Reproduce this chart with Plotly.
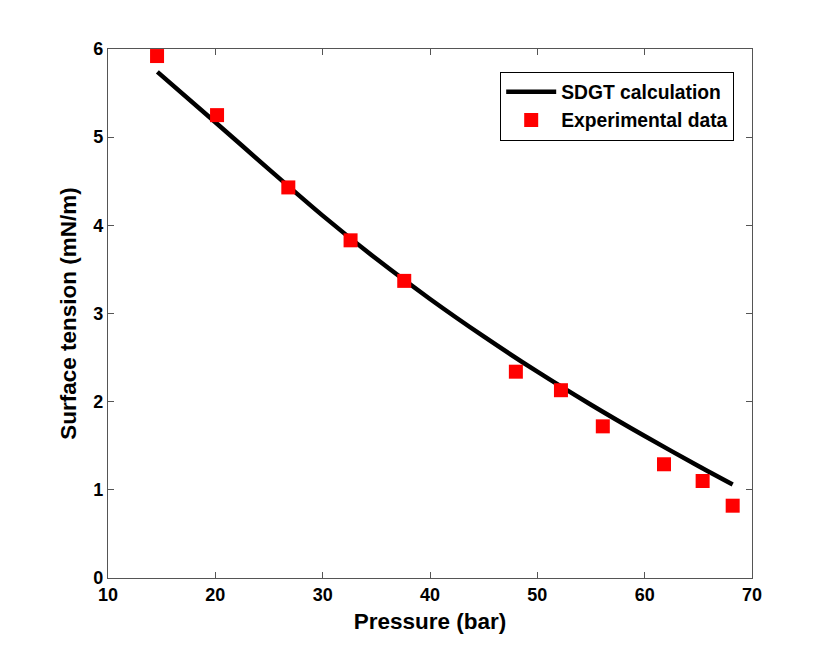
import plotly.graph_objects as go

# SDGT calculation (line)
calc_pressure = [14.6, 20, 25, 30, 35, 40, 45, 50, 55, 60, 65, 68.2]
calc_tension = [5.74, 5.17, 4.635, 4.11, 3.62, 3.165, 2.74, 2.34, 1.965, 1.61, 1.27, 1.06]

# Experimental data (markers)
exp_pressure = [14.57, 20.16, 26.8, 32.6, 37.6, 48.0, 52.2, 56.1, 61.8, 65.4, 68.2]
exp_tension = [5.92, 5.25, 4.43, 3.83, 3.37, 2.34, 2.13, 1.72, 1.29, 1.10, 0.82]

xticks = [10, 20, 30, 40, 50, 60, 70]
yticks = [0, 1, 2, 3, 4, 5, 6]

font = "Liberation Sans, Arial, Helvetica, sans-serif"

fig = go.Figure()
fig.add_trace(go.Scatter(
    x=calc_pressure, y=calc_tension, mode="lines",
    name="<b>SDGT calculation</b>",
    line=dict(color="black", width=4.5, shape="spline", smoothing=0.8),
))
fig.add_trace(go.Scatter(
    x=exp_pressure, y=exp_tension, mode="markers",
    name="<b>Experimental data</b>",
    marker=dict(symbol="square", size=14, color="#ff0000",
                line=dict(width=0)),
))

axis_common = dict(
    showgrid=False, zeroline=False, showline=True, linecolor="#555555",
    linewidth=1.2, mirror="ticks", ticks="inside", ticklen=6,
    tickcolor="#555555", tickwidth=1,
    tickfont=dict(family=font, size=18, color="black", weight="bold"),
)

fig.update_layout(
    width=830, height=651,
    margin=dict(l=100, r=86, t=41, b=81),
    paper_bgcolor="white", plot_bgcolor="white",
    xaxis=dict(range=[10, 70], tickvals=xticks,
               title=dict(text="<b>Pressure (bar)</b>",
                          font=dict(family=font, size=22.5, color="black"),
                          standoff=9),
               **axis_common),
    yaxis=dict(range=[0, 6], tickvals=yticks,
               title=dict(text="<b>Surface tension (mN/m)</b>",
                          font=dict(family=font, size=22.5, color="black"),
                          standoff=10),
               **axis_common),
    legend=dict(
        x=0.609, y=0.957, xanchor="left", yanchor="top",
        bordercolor="black", borderwidth=1, bgcolor="white",
        font=dict(family=font, size=19.3, color="black"),
        itemwidth=50, tracegroupgap=0,
    ),
    showlegend=True,
)

fig.write_html("out.html")
